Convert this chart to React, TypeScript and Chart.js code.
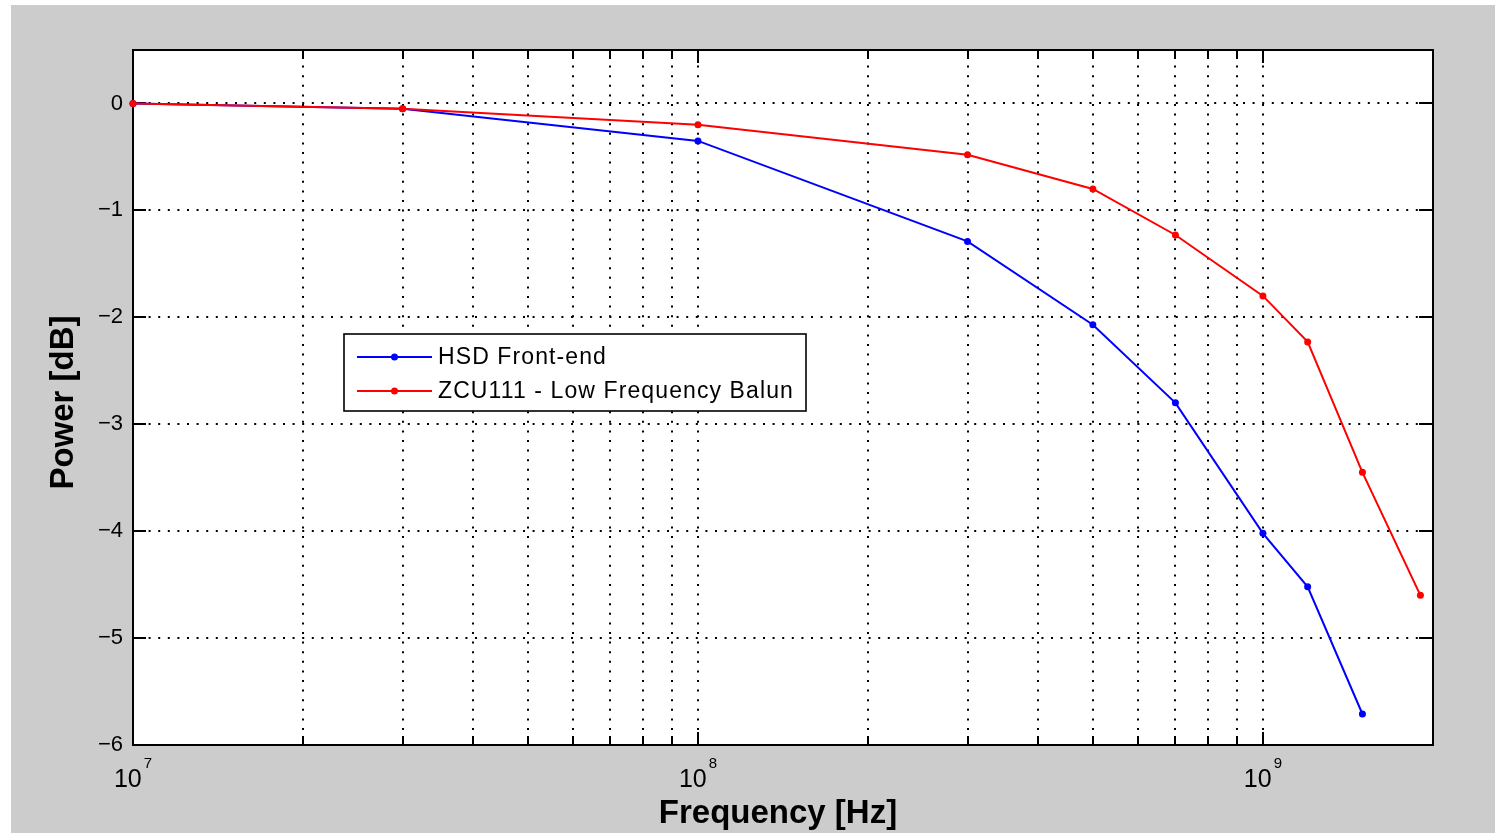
import React, { useEffect, useRef } from 'react';
import { Chart, registerables } from 'chart.js';

Chart.register(...registerables);

// ---- data ----
const hsdFreqs = [1e7, 3e7, 1e8, 3e8, 5e8, 7e8, 1e9, 1.2e9, 1.5e9];
const hsdPower = [0, -0.05, -0.35, -1.29, -2.07, -2.8, -4.02, -4.52, -5.71];
const zcuFreqs = [1e7, 3e7, 1e8, 3e8, 5e8, 7e8, 1e9, 1.2e9, 1.5e9, 1.9e9];
const zcuPower = [0, -0.05, -0.2, -0.48, -0.8, -1.23, -1.8, -2.23, -3.45, -4.6];
const seriesLabels = ['HSD Front-end', 'ZCU111 - Low Frequency Balun'];
const seriesColors = ['#0000ff', '#ff0000'];

const xTickValues = [
  1e7, 2e7, 3e7, 4e7, 5e7, 6e7, 7e7, 8e7, 9e7,
  1e8, 2e8, 3e8, 4e8, 5e8, 6e8, 7e8, 8e8, 9e8,
  1e9, 2e9,
];
const xMajorTicks = [1e7, 1e8, 1e9];
const xMajorBase = '10';
const xMajorExponents = ['7', '8', '9'];
const yTickValues = [-6, -5, -4, -3, -2, -1, 0];
const xTitle = 'Frequency [Hz]';
const yTitle = 'Power [dB]';

const FONT = '"Liberation Sans", Arial, Helvetica, sans-serif';

const matlabPlugin = {
  id: 'matlabLook',
  beforeDraw(chart: any) {
    const { ctx, chartArea: a } = chart;
    ctx.save();
    ctx.fillStyle = '#ffffff';
    ctx.fillRect(a.left, a.top, a.right - a.left, a.bottom - a.top);
    ctx.restore();
  },
  beforeDatasetsDraw(chart: any) {
    const { ctx, chartArea: a, scales } = chart;
    const x = scales.x;
    const y = scales.y;
    ctx.save();
    // dotted grid
    ctx.strokeStyle = '#000';
    ctx.lineWidth = 2;
    ctx.setLineDash([2, 7.6]);
    for (const v of xTickValues) {
      const px = Math.round(x.getPixelForValue(v));
      if (px <= a.left + 1 || px >= a.right - 1) continue;
      ctx.beginPath();
      ctx.moveTo(px, a.top + 6);
      ctx.lineTo(px, a.bottom);
      ctx.stroke();
    }
    for (const v of yTickValues) {
      const py = Math.round(y.getPixelForValue(v));
      if (py <= a.top + 1 || py >= a.bottom - 1) continue;
      ctx.beginPath();
      ctx.moveTo(a.left + 6, py);
      ctx.lineTo(a.right, py);
      ctx.stroke();
    }
    ctx.setLineDash([]);
    // inward ticks
    ctx.strokeStyle = '#000';
    ctx.lineWidth = 2;
    for (const v of xTickValues) {
      const px = Math.round(x.getPixelForValue(v));
      const len = xMajorTicks.includes(v) ? 13 : 9;
      ctx.beginPath();
      ctx.moveTo(px, a.bottom);
      ctx.lineTo(px, a.bottom - len);
      ctx.moveTo(px, a.top);
      ctx.lineTo(px, a.top + len);
      ctx.stroke();
    }
    for (const v of yTickValues) {
      const py = Math.round(y.getPixelForValue(v));
      ctx.beginPath();
      ctx.moveTo(a.left, py);
      ctx.lineTo(a.left + 13, py);
      ctx.moveTo(a.right, py);
      ctx.lineTo(a.right - 14, py);
      ctx.stroke();
    }
    // axes box
    ctx.lineWidth = 2;
    ctx.strokeRect(a.left, a.top, a.right - a.left, a.bottom - a.top);
    ctx.restore();
  },
  afterDraw(chart: any) {
    const { ctx, chartArea: a, scales } = chart;
    const x = scales.x;
    ctx.save();
    ctx.fillStyle = '#000';
    // x tick labels 10^n
    ctx.textBaseline = 'alphabetic';
    ctx.textAlign = 'left';
    xMajorTicks.forEach((v, i) => {
      const px = x.getPixelForValue(v);
      ctx.font = `25px ${FONT}`;
      const w1 = ctx.measureText(xMajorBase).width;
      ctx.font = `15px ${FONT}`;
      const w2 = ctx.measureText(xMajorExponents[i]).width;
      const start = px - (w1 + w2 + 2) / 2;
      ctx.font = `25px ${FONT}`;
      ctx.fillText(xMajorBase, start, a.bottom + 42);
      ctx.font = `15px ${FONT}`;
      ctx.fillText(xMajorExponents[i], start + w1 + 2, a.bottom + 23);
    });
    // axis titles
    ctx.font = `bold 33px ${FONT}`;
    ctx.textAlign = 'center';
    ctx.textBaseline = 'alphabetic';
    ctx.fillText(xTitle, (a.left + a.right) / 2 - 5, a.bottom + 78);
    ctx.save();
    ctx.translate(a.left - 69, (a.top + a.bottom) / 2 + 5);
    ctx.rotate(-Math.PI / 2);
    ctx.textBaseline = 'middle';
    ctx.fillText(yTitle, 0, 0);
    ctx.restore();
    // legend
    const lx = a.left + 211;
    const ly = a.top + 284;
    const lw = 462;
    const lh = 77;
    ctx.fillStyle = '#fff';
    ctx.fillRect(lx, ly, lw, lh);
    ctx.strokeStyle = '#000';
    ctx.lineWidth = 1.6;
    ctx.strokeRect(lx, ly, lw, lh);
    const ds = chart.data.datasets;
    ds.forEach((d: any, i: number) => {
      const cy = ly + 23 + i * 34;
      ctx.strokeStyle = d.borderColor;
      ctx.lineWidth = 2;
      ctx.beginPath();
      ctx.moveTo(lx + 13, cy);
      ctx.lineTo(lx + 88, cy);
      ctx.stroke();
      ctx.fillStyle = d.borderColor;
      ctx.beginPath();
      ctx.arc(lx + 50.5, cy, 3.5, 0, Math.PI * 2);
      ctx.fill();
      ctx.fillStyle = '#000';
      ctx.font = `23px ${FONT}`;
      (ctx as any).letterSpacing = '1.1px';
      ctx.textAlign = 'left';
      ctx.textBaseline = 'middle';
      ctx.fillText(d.label, lx + 94, cy + 1);
      (ctx as any).letterSpacing = '0px';
    });
    ctx.restore();
  },
};

export default function App() {
  const canvasRef = useRef<HTMLCanvasElement | null>(null);

  useEffect(() => {
    if (!canvasRef.current) return;
    const chart = new Chart(canvasRef.current, {
      type: 'line',
      data: {
        datasets: [
          {
            label: seriesLabels[0],
            data: hsdFreqs.map((f, i) => ({ x: f, y: hsdPower[i] })),
            borderColor: seriesColors[0],
            backgroundColor: seriesColors[0],
            pointBackgroundColor: seriesColors[0],
            borderWidth: 2,
            pointRadius: 3.5,
            pointBorderWidth: 0,
            tension: 0,
            clip: false as any,
            order: 1,
          },
          {
            label: seriesLabels[1],
            data: zcuFreqs.map((f, i) => ({ x: f, y: zcuPower[i] })),
            borderColor: seriesColors[1],
            backgroundColor: seriesColors[1],
            pointBackgroundColor: seriesColors[1],
            borderWidth: 2,
            pointRadius: 3.5,
            pointBorderWidth: 0,
            tension: 0,
            clip: false as any,
            order: 0,
          },
        ],
      },
      options: {
        animation: false,
        responsive: false,
        devicePixelRatio: 1,
        layout: { padding: { top: 45, right: 62, left: 0, bottom: 0 } },
        plugins: { legend: { display: false }, tooltip: { enabled: false } },
        events: [],
        scales: {
          x: {
            type: 'logarithmic',
            min: 1e7,
            max: 2e9,
            grid: { display: false, drawTicks: false },
            border: { display: false },
            ticks: { display: false },
            afterBuildTicks: (scale: any) => {
              scale.ticks = xTickValues.map((v) => ({ value: v }));
            },
            afterFit: (scale: any) => {
              scale.height = 88;
            },
          },
          y: {
            type: 'linear',
            min: -6,
            max: 0.5,
            grid: { display: false, drawTicks: false },
            border: { display: false },
            ticks: {
              color: '#000',
              padding: 10,
              font: { size: 22, family: FONT },
              callback: (v: any) => (Number(v) < 0 ? '\u2212' + Math.abs(Number(v)) : String(v)),
            },
            afterBuildTicks: (scale: any) => {
              scale.ticks = yTickValues.map((v) => ({ value: v }));
            },
            afterFit: (scale: any) => {
              scale.width = 122;
            },
          },
        },
      } as any,
      plugins: [matlabPlugin],
    });
    return () => chart.destroy();
  }, []);

  return (
    <div style={{ position: 'absolute', left: 0, top: 0, width: 1495, height: 833, background: '#fff', overflow: 'hidden' }}>
      <canvas
        ref={canvasRef}
        width={1484}
        height={828}
        style={{ position: 'absolute', left: 11, top: 5, width: 1484, height: 828, background: '#cccccc' }}
      />
    </div>
  );
}
